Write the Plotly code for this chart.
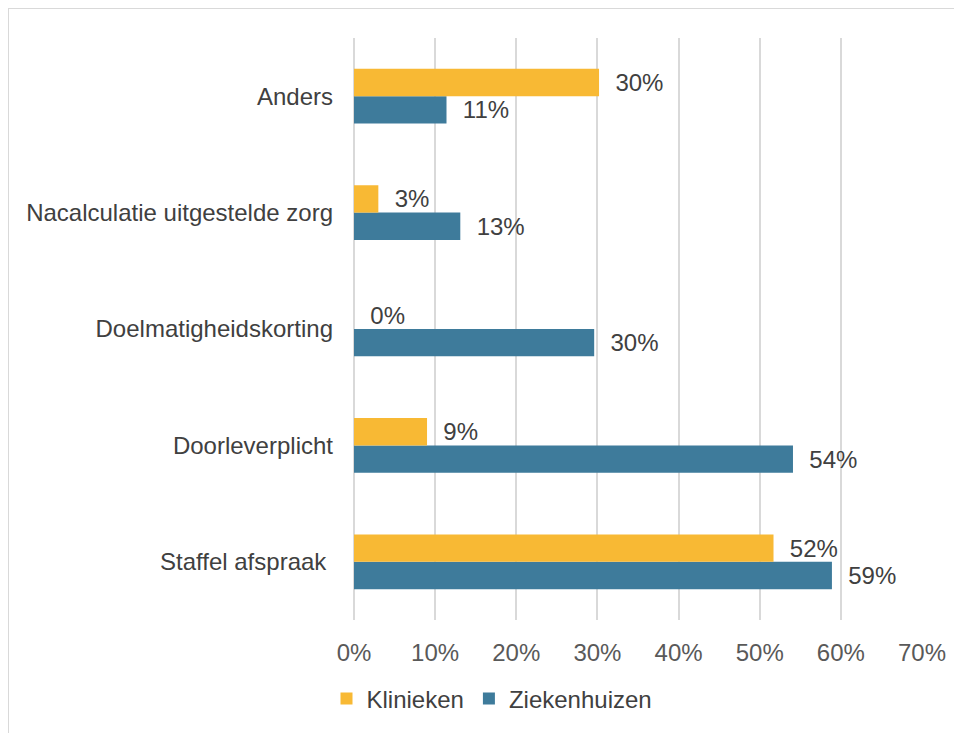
import plotly.graph_objects as go

categories = ["Staffel afspraak ", "Doorleverplicht", "Doelmatigheidskorting",
              "Nacalculatie uitgestelde zorg", "Anders"]
klinieken = [0.517, 0.09, 0.0, 0.03, 0.302]
ziekenhuizen = [0.589, 0.541, 0.296, 0.131, 0.114]
x_ticks = [0, 0.1, 0.2, 0.3, 0.4, 0.5, 0.6, 0.7]
x_ticklabels = ["0%", "10%", "20%", "30%", "40%", "50%", "60%", "70%"]

FONT = "Liberation Sans, Arial, sans-serif"
YELLOW = "#F8B934"
BLUE = "#3E7B9B"
FS = 24

fig = go.Figure()
fig.add_trace(go.Bar(
    y=categories, x=ziekenhuizen, name="Ziekenhuizen", orientation="h",
    marker=dict(color=BLUE, line=dict(width=0)),
    texttemplate="  %{x:.0%}", textposition="outside", cliponaxis=False,
    textfont=dict(size=FS, color="#404040", family=FONT),
))
fig.add_trace(go.Bar(
    y=categories, x=klinieken, name="Klinieken", orientation="h",
    marker=dict(color=YELLOW, line=dict(width=0)),
    texttemplate="  %{x:.0%}", textposition="outside", cliponaxis=False,
    textfont=dict(size=FS, color="#404040", family=FONT),
))

# page body has an 8px margin; figure coordinates are page coordinates minus 8
OFF = 8
W, H = 962 - OFF, 733 - OFF
L = 354 - OFF
R = W - (922 - OFF)
T = 38 - OFF
B = H - (620 - OFF)
pw = W - L - R
ph = H - T - B

def px(x):
    return (x - OFF - L) / pw

def py(y):
    return (H - B - (y - OFF)) / ph

fig.update_layout(
    width=W, height=H,
    margin=dict(l=L, r=R, t=T, b=B, autoexpand=False),
    paper_bgcolor="white", plot_bgcolor="white",
    barmode="group", bargap=0.53, bargroupgap=0,
    font=dict(family=FONT, size=FS, color="#404040"),
    xaxis=dict(
        range=[0, 0.7], tickvals=x_ticks, ticktext=x_ticklabels,
        showgrid=True, gridcolor="#D9D9D9", gridwidth=1.5,
        zeroline=True, zerolinecolor="#D9D9D9", zerolinewidth=1.5,
        showline=False, ticks="", ticklabelstandoff=16,
        tickfont=dict(size=FS, color="#595959", family=FONT),
        fixedrange=True,
    ),
    yaxis=dict(
        showgrid=False, zeroline=False, showline=False, ticks="",
        ticklabelstandoff=20,
        tickfont=dict(size=FS, color="#404040", family=FONT),
        fixedrange=True,
    ),
    showlegend=True,
    legend=dict(
        orientation="h", traceorder="reversed",
        x=px(492), xanchor="center", y=py(699), yanchor="middle",
        font=dict(size=FS, color="#404040", family=FONT),
        bgcolor="rgba(0,0,0,0)", itemwidth=30,
    ),
    shapes=[dict(
        type="rect", xref="paper", yref="paper",
        x0=px(8), x1=px(975), y0=py(745), y1=py(8),
        line=dict(color="#D9D9D9", width=2), fillcolor="rgba(0,0,0,0)",
        layer="below",
    )],
)

fig.write_html("out.html")
